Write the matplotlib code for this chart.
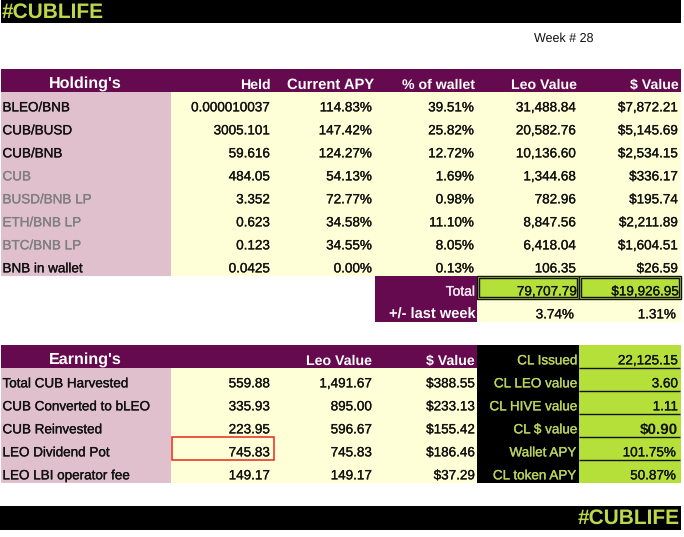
import matplotlib
matplotlib.use('Agg')
import matplotlib.pyplot as plt
import matplotlib.patheffects as pe
from matplotlib.patches import Rectangle

plt.rcParams['font.family'] = ['Liberation Sans', 'DejaVu Sans']
plt.rcParams['text.hinting'] = 'none'

PURPLE = '#660a50'
PINK = '#e0c0cc'
CREAM = '#ffffd7'
LIME = '#b5e03a'
TITLE_LIME = '#bcd84a'
OLIVE = '#bcd35a'
GREY = '#7f7f7f'

hold_header = ["Held", "Current APY", "% of wallet", "Leo Value", "$ Value"]
hold_names = ["BLEO/BNB", "CUB/BUSD", "CUB/BNB", "CUB", "BUSD/BNB LP",
              "ETH/BNB LP", "BTC/BNB LP", "BNB in wallet"]
hold_greyed = [False, False, False, True, True, True, True, False]
held = ["0.000010037", "3005.101", "59.616", "484.05", "3.352", "0.623", "0.123", "0.0425"]
apy = ["114.83%", "147.42%", "124.27%", "54.13%", "72.77%", "34.58%", "34.55%", "0.00%"]
wallet = ["39.51%", "25.82%", "12.72%", "1.69%", "0.98%", "11.10%", "8.05%", "0.13%"]
leo_value = ["31,488.84", "20,582.76", "10,136.60", "1,344.68", "782.96", "8,847.56", "6,418.04", "106.35"]
usd_value = ["$7,872.21", "$5,145.69", "$2,534.15", "$336.17", "$195.74", "$2,211.89", "$1,604.51", "$26.59"]
total = ["79,707.79", "$19,926.95"]
last_week = ["3.74%", "1.31%"]

earn_names = ["Total CUB Harvested", "CUB Converted to bLEO", "CUB Reinvested",
              "LEO Dividend Pot", "LEO LBI operator fee"]
earn_held = ["559.88", "335.93", "223.95", "745.83", "149.17"]
earn_leo = ["1,491.67", "895.00", "596.67", "745.83", "149.17"]
earn_usd = ["$388.55", "$233.13", "$155.42", "$186.46", "$37.29"]
cl_names = ["CL Issued", "CL LEO value", "CL HIVE value", "CL $ value", "Wallet APY", "CL token APY"]
cl_values = ["22,125.15", "3.60", "1.11", "$0.90", "101.75%", "50.87%"]

W, H = 684, 537
fig = plt.figure(figsize=(W / 100, H / 100), dpi=100)
ax = fig.add_axes([0, 0, 1, 1])
ax.set_xlim(0, W)
ax.set_ylim(H, 0)
ax.axis('off')

# column edges, pixels
cols = [1, 171, 273, 375, 477, 579, 681]
row_h = 23
FS = 9.7
HEAD_FS = 10.2


def box(x0, x1, y0, y1, color):
    ax.add_patch(Rectangle((x0, y0), x1 - x0, y1 - y0, facecolor=color, edgecolor='none', zorder=1))


def cell(txt, col, y, color='#111111', size=FS, weight='normal', pad=3, ha='right'):
    x = cols[col + 1] - pad if ha == 'right' else cols[col] + 1.5
    t = ax.text(x, y + 16, txt, ha=ha, va='center', color=color, fontsize=size,
                fontweight=weight, zorder=3)
    # reference text is a bit heavier than plain regular
    if weight == 'normal':
        t.set_path_effects([pe.withStroke(linewidth=0.2, foreground=color)])


# banners
box(1, 681, 0, 23, 'black')
box(0, 681, 506, 530, 'black')
ax.text(2, 12, "#CUBLIFE", ha='left', va='center', color=TITLE_LIME, fontsize=15, fontweight='bold', zorder=3)
ax.text(680, 518, "#CUBLIFE", ha='right', va='center', color=TITLE_LIME, fontsize=15, fontweight='bold', zorder=3)
ax.text(534, 38.5, "Week # 28", ha='left', va='center', color='#111111', fontsize=9, zorder=3)

# holdings table
top = 69
box(cols[0], cols[-1], top, top + row_h, PURPLE)
ax.text(85.5, top + 15, "Holding's", ha='center', va='center', color='white', fontsize=11.6, fontweight='bold', zorder=3)
for i, txt in enumerate(hold_header):
    cell(txt, i + 1, top, color='white', size=10.6 if txt == "Current APY" else HEAD_FS, weight='bold', pad=1 if i == 1 else 2)

y0 = top + row_h
box(cols[0], cols[1], y0, y0 + row_h * len(hold_names), PINK)
box(cols[1], cols[-1], y0, y0 + row_h * len(hold_names), CREAM)
for r, name in enumerate(hold_names):
    y = y0 + r * row_h
    cell(name, 0, y, color=GREY if hold_greyed[r] else '#111111', ha='left')
    for c, vals in enumerate([held, apy, wallet, leo_value, usd_value]):
        cell(vals[r], c + 1, y)

# totals
y1 = y0 + row_h * len(hold_names)
box(375, 477, y1, y1 + 2 * row_h, PURPLE)
box(477, 681, y1, y1 + 2 * row_h, CREAM)
cell("Total", 3, y1, color='#f4e8f0', size=10, pad=2)
cell("+/- last week", 3, y1 + row_h, color='white', size=10.5, weight='bold', pad=1)
for c, txt in enumerate(total):
    x0, x1 = cols[c + 4], cols[c + 5]
    ax.add_patch(Rectangle((x0, y1), x1 - x0, row_h, facecolor=LIME, edgecolor='#111111', lw=1, zorder=2))
    ax.add_patch(Rectangle((x0 + 2, y1 + 2), x1 - x0 - 4, row_h - 4, facecolor='none', edgecolor='#111111', lw=1, zorder=2))
    cell(txt, c + 4, y1, pad=2)
for c, txt in enumerate(last_week):
    cell(txt, c + 4, y1 + row_h, pad=5)

# earnings table
top2 = 345
box(cols[0], 477, top2, top2 + row_h, PURPLE)
ax.text(85.5, top2 + 15, "Earning's", ha='center', va='center', color='white', fontsize=11.6, fontweight='bold', zorder=3)
cell("Leo Value", 2, top2, color='white', size=HEAD_FS, weight='bold')
cell("$ Value", 3, top2, color='white', size=HEAD_FS, weight='bold', pad=2)

y2 = top2 + row_h
box(cols[0], cols[1], y2, y2 + row_h * len(earn_names), PINK)
box(cols[1], cols[4], y2, y2 + row_h * len(earn_names), CREAM)
for r, name in enumerate(earn_names):
    y = y2 + r * row_h
    cell(name, 0, y, ha='left')
    cell(earn_held[r], 1, y)
    cell(earn_leo[r], 2, y)
    cell(earn_usd[r], 3, y, pad=2)

# red box around the dividend pot
ax.add_patch(Rectangle((cols[1] + 0.5, y2 + 3 * row_h - 0.5), 102.5, row_h, facecolor='none', edgecolor='#e8261c', lw=1.1, zorder=4))

# CL block
box(477, 579, top2, y2 + row_h * len(earn_names), 'black')
box(579, 681, top2, y2 + row_h * len(earn_names), LIME)
for r, name in enumerate(cl_names):
    y = top2 + r * row_h
    cell(name, 4, y, color=OLIVE, pad=1.5 if r < 4 else 2.5)
    pad = 3 if r < 4 else 5
    weight = 'bold' if name == "CL $ value" else 'normal'
    cell(cl_values[r], 5, y, weight=weight, size=11 if weight == 'bold' else FS, pad=pad)
    if r < 5:
        ax.plot([579, 680], [y + row_h, y + row_h], color='#111111', lw=1, zorder=2, solid_capstyle='butt')

fig.savefig('out.png', dpi=100, facecolor='white')
plt.close(fig)
